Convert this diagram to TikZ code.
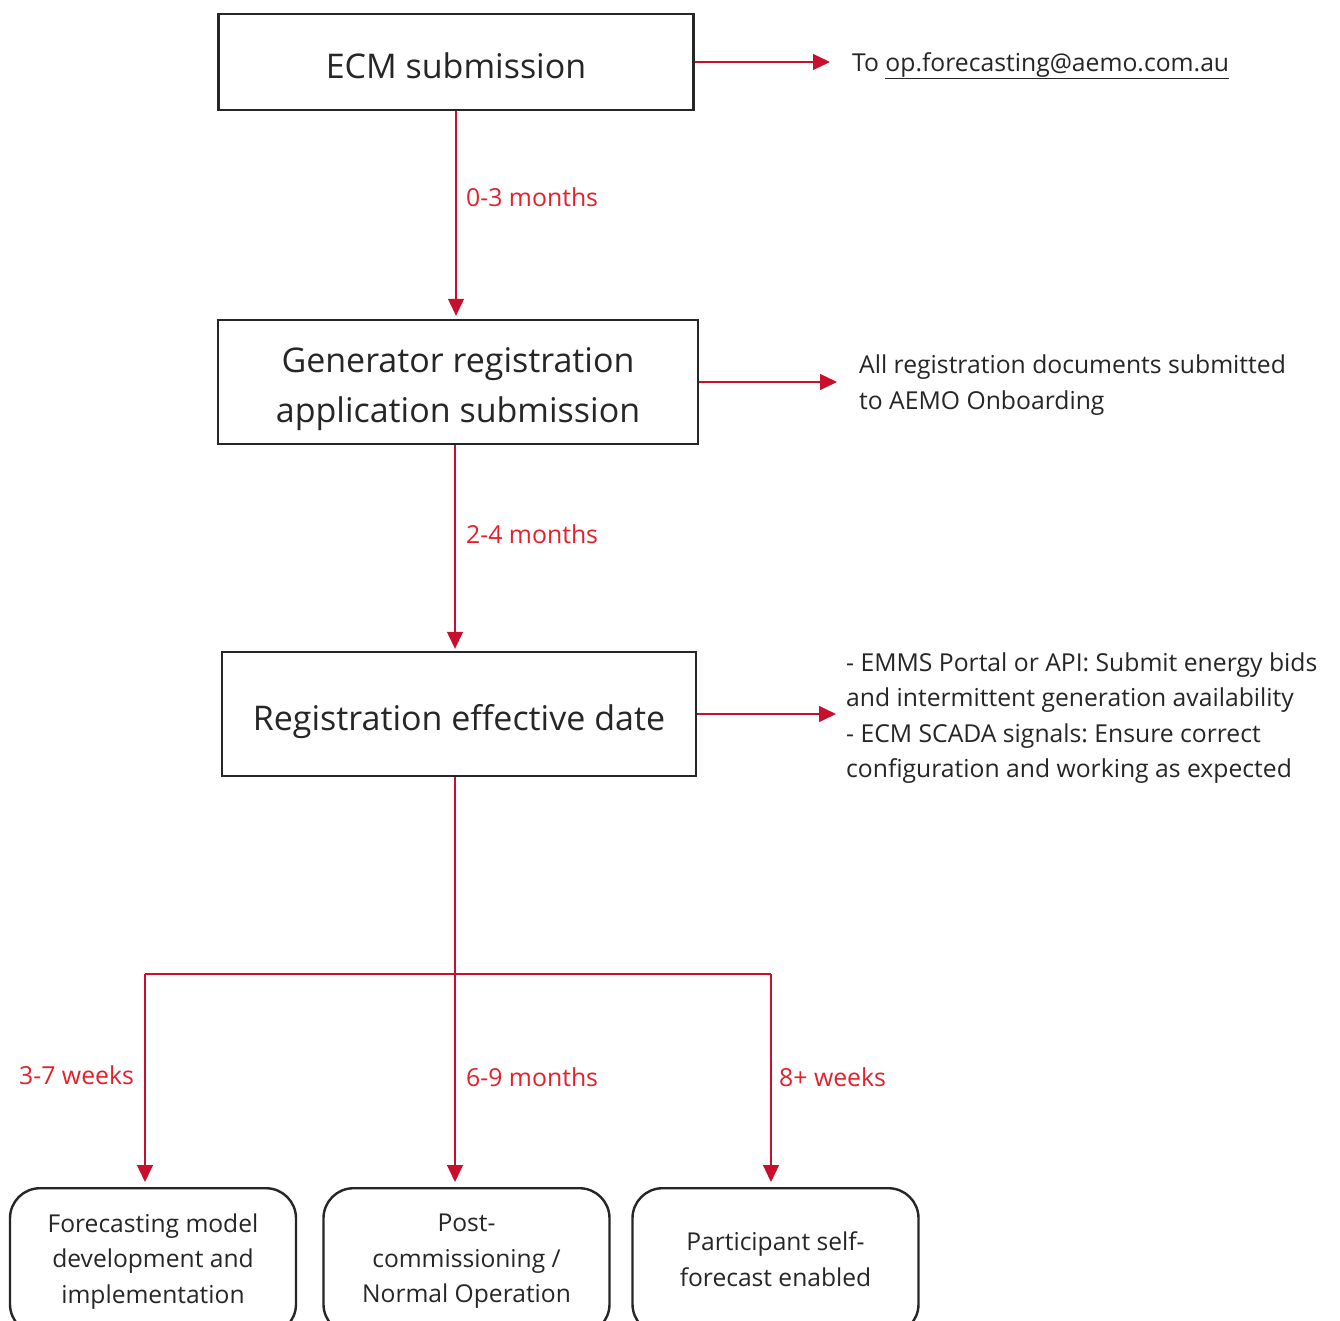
\documentclass[tikz,border=0pt]{standalone}
\usepackage{fontspec}
\setmainfont{Open Sans}
\usetikzlibrary{arrows.meta,calc}
\frenchspacing
\definecolor{arrred}{HTML}{C8102E}
\definecolor{lblred}{HTML}{E5202A}
\definecolor{txt}{HTML}{262626}
\newcommand{\dropby}[3]{\raisebox{-#1}[\height][\depth]{\begin{tabular}{@{}#2@{}}#3\end{tabular}}}
\begin{document}
\begin{tikzpicture}[x=1pt,y=-1pt,
  box/.style={draw=txt,line width=2.4pt,text=txt,align=center,inner sep=0pt,font=\fontsize{34}{50}\selectfont},
  rbox/.style={draw=txt,line width=2.4pt,rounded corners=30pt,text=txt,align=center,inner sep=0pt,
    minimum width=286pt,minimum height=146pt,anchor=north,font=\fontsize{24.6}{35.5}\selectfont},
  arr/.style={draw=arrred,line width=1.3pt,-{Triangle[length=17pt,width=16pt]}},
  lnk/.style={draw=arrred,line width=1.3pt},
  lbl/.style={text=lblred,anchor=west,inner sep=0pt,font=\fontsize{24.8}{28}\selectfont},
  side/.style={text=txt,anchor=west,inner sep=0pt,align=left,font=\fontsize{24.7}{35.5}\selectfont}]
\path[use as bounding box,clip] (0,0) rectangle (1340,1320);
\fill[white] (0,0) rectangle (1340,1320);
% main boxes
\node[box,minimum width=475pt,minimum height=96pt] (b1) at (456,62) {\dropby{6pt}{c}{ECM submission}};
\node[box,minimum width=480pt,minimum height=124pt] (b2) at (458,382) {\dropby{5pt}{c}{Generator registration\\application submission}};
\node[box,minimum width=474pt,minimum height=124pt] (b3) at (459,714) {\dropby{6pt}{c}{Registration effective date}};
% side texts
\node[side] (t1) at (852,62) {\dropby{2pt}{l}{To \underline{op.forecasting@aemo.com.au}}};
\node[side] (t2) at (859,382) {\dropby{2.5pt}{l}{All registration documents submitted\\to AEMO Onboarding}};
\node[side] (t3) at (846,715) {\dropby{2.5pt}{l}{- EMMS Portal or API: Submit energy bids\\and intermittent generation availability\\- ECM SCADA signals: Ensure correct\\configuration and working as expected}};
% bottom boxes
\node[rbox] (c1) at (153,1187) {Forecasting model\\development and\\implementation};
\node[rbox] (c2) at (466.5,1187) {Post-\\commissioning /\\Normal Operation};
\node[rbox] (c3) at (775.5,1187) {\dropby{0pt}{c}{Participant self-\\forecast enabled}};
% side arrows
\draw[arr,shorten >=22pt] (b1.east) -- (b1.east -| t1.west);
\draw[arr,shorten >=22pt] (b2.east) -- (b2.east -| t2.west);
\draw[arr,shorten >=10pt] (b3.east) -- (b3.east -| t3.west);
% vertical arrows
\coordinate (j) at (455,974);
\coordinate (jl) at (145,974);
\coordinate (jr) at (771,974);
\draw[arr,shorten >=3pt] (b1.south) -- (b1.south |- b2.north);
\draw[arr,shorten >=2pt] (b2.south -| j) -- (j |- b3.north);
\draw[lnk] (b3.south -| j) -- (j);
\draw[lnk] (jl) -- (jr);
\draw[arr,shorten >=5pt] (jl) -- (jl |- c1.north);
\draw[arr,shorten >=5pt] (j) -- (j |- c2.north);
\draw[arr,shorten >=5pt] (jr) -- (jr |- c3.north);
% labels
\node[lbl] (l1) at (466,197) {0-3 months};
\node[lbl] (l2) at (466,534) {2-4 months};
\node[lbl] (l3) at (19,1075) {3-7 weeks};
\node[lbl] (l4) at (466,1077) {6-9 months};
\node[lbl] (l5) at (779,1077) {8+ weeks};
\end{tikzpicture}
\end{document}
